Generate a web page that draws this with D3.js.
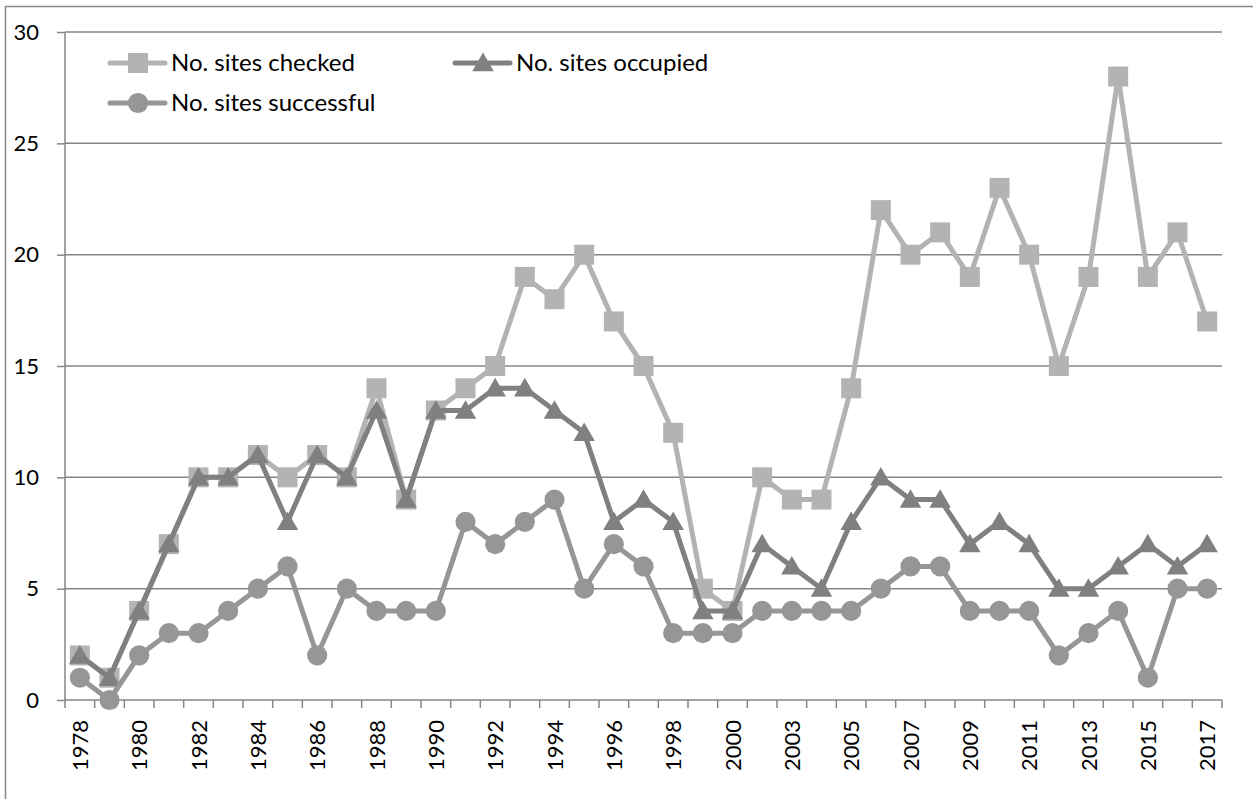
<!DOCTYPE html>
<html>
<head>
<meta charset="utf-8">
<script src="https://cdn.jsdelivr.net/npm/d3@7"></script>
<style>
  html, body { margin: 0; padding: 0; background: #fff; }
  svg text { font-family: Lato, "Open Sans", sans-serif; fill: #000; }
</style>
</head>
<body>
<div id="chart"></div>
<script>
// Nest site monitoring, 1978-2017 (2001 not surveyed)
const years = ['1978','1979','1980','1981','1982','1983','1984','1985','1986','1987',
  '1988','1989','1990','1991','1992','1993','1994','1995','1996','1997','1998','1999',
  '2000','2002','2003','2004','2005','2006','2007','2008','2009','2010','2011','2012',
  '2013','2014','2015','2016','2017'];
const sitesChecked = [2,1,4,7,10,10,11,10,11,10,14,9,13,14,15,19,18,20,17,15,12,5,
  4,10,9,9,14,22,20,21,19,23,20,15,19,28,19,21,17];
const sitesOccupied = [2,1,4,7,10,10,11,8,11,10,13,9,13,13,14,14,13,12,8,9,8,4,
  4,7,6,5,8,10,9,9,7,8,7,5,5,6,7,6,7];
const sitesSuccessful = [1,0,2,3,3,4,5,6,2,5,4,4,4,8,7,8,9,5,7,6,3,3,
  3,4,4,4,4,5,6,6,4,4,4,2,3,4,1,5,5];
const yTicks = [0, 5, 10, 15, 20, 25, 30];
const shownLabels = ['1978','1980','1982','1984','1986','1988','1990','1992','1994',
  '1996','1998','2000','2003','2005','2007','2009','2011','2013','2015','2017'];

const W = 1253, H = 799;
const margin = { top: 32, right: 31, bottom: 99, left: 65 };
const axisFont = 22;
const legendFont = 24;

const series = [
  { name: 'No. sites checked', values: sitesChecked, color: '#b3b3b3', shape: 'square' },
  { name: 'No. sites occupied', values: sitesOccupied, color: '#808080', shape: 'triangle' },
  { name: 'No. sites successful', values: sitesSuccessful, color: '#969696', shape: 'circle' }
];

const svg = d3.select('#chart').append('svg')
  .attr('width', W).attr('height', H);

// outer chart frame (right/bottom run off the picture)
svg.append('rect')
  .attr('x', 5.5).attr('y', 6.5)
  .attr('width', W + 10).attr('height', H + 10)
  .attr('fill', 'none').attr('stroke', '#888').attr('stroke-width', 1.5);

const x = d3.scaleBand()
  .domain(years)
  .range([margin.left, W - margin.right]);

const y = d3.scaleLinear()
  .domain([0, 30])
  .range([H - margin.bottom, margin.top]);

// gridlines
svg.append('g')
  .selectAll('line')
  .data(yTicks.filter(d => d > 0))
  .enter().append('line')
  .attr('x1', margin.left).attr('x2', W - margin.right)
  .attr('y1', d => y(d)).attr('y2', d => y(d))
  .attr('stroke', '#868686').attr('stroke-width', 1.5);

// y axis
const yAxis = svg.append('g')
  .attr('transform', `translate(${margin.left},0)`)
  .call(d3.axisLeft(y).tickValues(yTicks).tickSize(8).tickPadding(18).tickFormat(d3.format('d')));
yAxis.selectAll('path, line').attr('stroke', '#868686').attr('stroke-width', 1.5);
yAxis.select('.domain').attr('d', `M0,${y(0)}V${y(30)}`);
yAxis.selectAll('text').attr('font-size', axisFont).style('font-family', 'Lato, sans-serif');

// x axis: ticks between categories
const xAxisG = svg.append('g')
  .attr('transform', `translate(0,${y(0)})`);
xAxisG.append('line')
  .attr('x1', margin.left).attr('x2', W - margin.right)
  .attr('stroke', '#868686').attr('stroke-width', 1.5);
const boundaries = years.map(d => x(d)).concat([x(years[years.length - 1]) + x.bandwidth()]);
xAxisG.selectAll('line.tick')
  .data(boundaries)
  .enter().append('line')
  .attr('class', 'tick')
  .attr('x1', d => d).attr('x2', d => d)
  .attr('y1', 0).attr('y2', 8)
  .attr('stroke', '#868686').attr('stroke-width', 1.5);
xAxisG.selectAll('text')
  .data(shownLabels)
  .enter().append('text')
  .attr('transform', d => `translate(${x(d) + x.bandwidth() / 2 + 8},20) rotate(-90)`)
  .attr('text-anchor', 'end')
  .attr('font-size', axisFont)
  .text(d => d);

// lines and markers
const line = d3.line()
  .x((d, i) => x(years[i]) + x.bandwidth() / 2)
  .y(d => y(d));

const symbols = {
  square: d3.symbol().type(d3.symbolSquare).size(400),
  triangle: d3.symbol().type(d3.symbolTriangle).size(200),
  circle: d3.symbol().type(d3.symbolCircle).size(320)
};

series.forEach(s => {
  const g = svg.append('g');
  g.append('path')
    .datum(s.values)
    .attr('d', line)
    .attr('fill', 'none')
    .attr('stroke', s.color)
    .attr('stroke-width', 5)
    .attr('stroke-linejoin', 'round');
  g.selectAll('path.mark')
    .data(s.values)
    .enter().append('path')
    .attr('class', 'mark')
    .attr('d', symbols[s.shape])
    .attr('transform', (d, i) => `translate(${x(years[i]) + x.bandwidth() / 2},${y(d) + (s.shape === 'triangle' ? 2 : 0)})`)
    .attr('fill', s.color);
});

// legend
const legendPos = [
  { x: 110, y: 63 },
  { x: 455, y: 63 },
  { x: 110, y: 103 }
];
series.forEach((s, i) => {
  const p = legendPos[i];
  const g = svg.append('g').attr('transform', `translate(${p.x},${p.y})`);
  g.append('line')
    .attr('x1', 0).attr('x2', 55)
    .attr('stroke', s.color).attr('stroke-width', 5).attr('stroke-linecap', 'round');
  g.append('path')
    .attr('d', symbols[s.shape])
    .attr('transform', `translate(28,${s.shape === 'triangle' ? 2 : 0})`)
    .attr('fill', s.color);
  g.append('text')
    .attr('x', 61).attr('dy', '0.35em')
    .attr('font-size', legendFont)
    .text(s.name);
});
</script>
</body>
</html>
